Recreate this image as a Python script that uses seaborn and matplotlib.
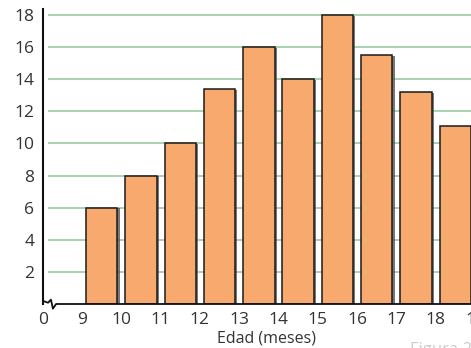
import numpy as np
import pandas as pd
import seaborn as sns
import matplotlib.pyplot as plt
import matplotlib.patheffects as pe

# Data
ages = [9, 10, 11, 12, 13, 14, 15, 16, 17, 18]
counts = [6, 8, 10, 13.4, 16, 14, 18, 15.5, 13.2, 11.1]
y_ticks = [2, 4, 6, 8, 10, 12, 14, 16, 18]
x_tick_labels = ['0', '9', '10', '11', '12', '13', '14', '15', '16', '17', '18', '19']

sns.set_style('white')
plt.rcParams['font.family'] = ['Open Sans', 'DejaVu Sans']

# broken axis: "0" sits at position 0, age 9 at position 1, etc.
df = pd.DataFrame({'age': ages, 'count': counts})
df['pos'] = df['age'] - 8 + 0.5

fig = plt.figure(figsize=(4.71, 3.48), dpi=100)
unit = 39.3 / 471
ax = fig.add_axes([42.7 / 471, 44 / 348, 11.5 * unit, 0.8469])

# green grid lines
ax.hlines(y_ticks, 0.13, 11.5, colors='#a6d3ad', linewidth=1.4, zorder=0)

sns.barplot(data=df, x='pos', y='count', native_scale=True, width=0.8,
            color='#f7a96e', saturation=1, edgecolor='#1a1a1a', linewidth=1.1,
            ax=ax, zorder=2)
for p in ax.patches:
    p.set_path_effects([pe.SimplePatchShadow(offset=(1.6, -0.6), shadow_rgbFace='#555555', alpha=0.8),
                        pe.Normal()])

ax.set_xlim(0, 11.5)
ax.set_ylim(0, 18.35)

ax.set_yticks(y_ticks)
ax.set_yticklabels([str(v) for v in y_ticks])
ax.set_xticks(range(len(x_tick_labels)))
ax.set_xticklabels(x_tick_labels)
ax.tick_params(axis='both', direction='inout', length=8, width=1.1, color='#3b3ba0',
               labelsize=12.5, labelcolor='#333333', pad=2)
ax.tick_params(axis='x', pad=2)
ax.xaxis.get_major_ticks()[0].tick1line.set_visible(False)

for s in ['top', 'right', 'bottom']:
    ax.spines[s].set_visible(False)
ax.spines['left'].set_color('#111111')
ax.spines['left'].set_linewidth(1.5)

# baseline with the axis-break zigzag
zx = [0, 0.135, 0.21, 0.26, 0.34, 11.5]
zy = [0.2, 0.08, 0.27, -0.29, 0, 0]
ax.plot(zx, zy, color='#111111', linewidth=1.3, clip_on=False, zorder=3)

ax.set_xlabel('Edad (meses)', fontsize=11.5, color='#333333')
ax.set_ylabel('')
ax.xaxis.set_label_coords(5.7 / 11.5, -0.09)

fig.text(0.870, 0.016, 'Figura 2', fontsize=12, color='#cccccc', va='top', ha='left')

fig.savefig('out.png', dpi=100)
